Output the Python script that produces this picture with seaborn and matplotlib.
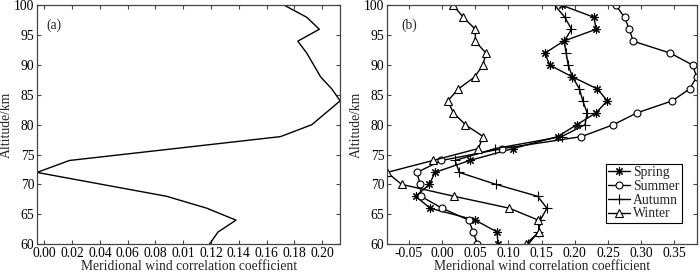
import matplotlib
matplotlib.use("Agg")
import matplotlib.pyplot as plt
import seaborn as sns
import pandas as pd

# ---------------- data ----------------
# panel (a): total meridional wind correlation coefficient
alt_a = [100, 98, 96, 94, 92, 90, 88, 86, 84, 80, 78, 74, 72, 68, 66, 64, 62, 60]
corr_a = [0.173, 0.189, 0.198, 0.1825, 0.189, 0.194, 0.199, 0.207, 0.213, 0.1926,
          0.170, 0.018, -0.0053, 0.088, 0.117, 0.138, 0.125, 0.119]

# panel (b): seasonal
alt_b = [100, 98, 96, 94, 92, 90, 88, 86, 84, 82, 80, 78, 76, 74, 72, 70, 68, 66, 64, 62, 60]
spring = [0.181, 0.229, 0.232, 0.183, 0.155, 0.162, 0.1965, 0.234, 0.249, 0.232, 0.203,
          0.174, 0.107, 0.0415, -0.011, -0.019, -0.040, -0.018, 0.050, 0.083, 0.084]
summer = [0.262, 0.275, 0.282, 0.288, 0.344, 0.3775, 0.3837, 0.373, 0.347, 0.294, 0.258,
          0.210, 0.091, -0.001, -0.038, -0.033, -0.032, 0.000, 0.040, 0.047, 0.053]
autumn = [0.170, 0.185, 0.195, 0.184, 0.187, 0.190, 0.1965, 0.207, 0.212, 0.2185, 0.2154,
          0.180, 0.080, 0.0195, 0.026, 0.081, 0.144, 0.158, 0.148, 0.145, 0.130]
winter = [0.017, 0.032, 0.050, 0.050, 0.066, 0.0615, 0.049, 0.0246, 0.0085, 0.017, 0.035,
          0.062, 0.0545, -0.0138, -0.083, -0.061, 0.018, 0.1015, 0.145, 0.146, 0.126]
season_names = ["Spring", "Summer", "Autumn", "Winter"]

xticks_a = [0.00, 0.02, 0.04, 0.06, 0.08, 0.10, 0.12, 0.14, 0.16, 0.18, 0.20]
xticklabels_a = ["0.00", "0.02", "0.04", "0.06", "0.08", "0.01", "0.12", "0.14",
                 "0.16", "0.18", "0.20"]
xticks_b = [-0.05, 0.00, 0.05, 0.10, 0.15, 0.20, 0.25, 0.30, 0.35]
xticklabels_b = ["-0.05", "0.00", "0.05", "0.10", "0.15", "0.20", "0.25", "0.30", "0.35"]
yticks = [60, 65, 70, 75, 80, 85, 90, 95, 100]
xlabel = "Meridional wind correlation coefficient"
ylabel = "Altitude/km"

# ---------------- style ----------------
sns.set_theme(style="ticks")
plt.rcParams["font.family"] = ["Liberation Serif", "DejaVu Serif"]
plt.rcParams["axes.unicode_minus"] = False
FS = 9.8

fig = plt.figure(figsize=(7.0, 2.75), dpi=100)
ax_a = fig.add_axes([0.0529, 0.1127, 0.433, 0.8677])
ax_b = fig.add_axes([0.5529, 0.1127, 0.4424, 0.8677])

def style_axes(ax):
    for s in ax.spines.values():
        s.set_color("#444444")
        s.set_linewidth(0.9)
        s.set_visible(True)
    ax.tick_params(direction="in", top=True, right=True, length=3, width=0.8,
                   colors="#444444", labelcolor="black", labelsize=FS, pad=2)
    ax.set_ylim(60, 100)
    ax.set_yticks(yticks)
    ax.set_xlabel(xlabel, fontsize=FS, labelpad=0)
    ax.set_ylabel(ylabel, fontsize=FS, labelpad=1)

# panel (a)
df_a = pd.DataFrame({"alt": alt_a, "corr": corr_a})
sns.lineplot(data=df_a, x="corr", y="alt", orient="y", estimator=None, sort=True,
             color="black", linewidth=1.0, ax=ax_a)
style_axes(ax_a)
ax_a.set_xlim(min(corr_a), max(corr_a))
ax_a.set_xticks(xticks_a)
ax_a.set_xticklabels(xticklabels_a)
ax_a.text(0.03, 0.945, "(a)", transform=ax_a.transAxes, fontsize=FS, va="top", ha="left")

# panel (b)
series = [spring, summer, autumn, winter]
markers = [(8, 2, 0), "o", "+", "^"]
msizes = [6, 5, 6.5, 5.5]
for name, vals, mk, ms in zip(season_names, series, markers, msizes):
    df = pd.DataFrame({"alt": alt_b, "corr": vals})
    hollow = mk in ("o", "^")
    sns.lineplot(data=df, x="corr", y="alt", orient="y", estimator=None, sort=True,
                 color="black", linewidth=1.0, marker=mk, markersize=ms,
                 markerfacecolor="white" if hollow else "black",
                 markeredgecolor="black", markeredgewidth=0.8, label=name, ax=ax_b)
style_axes(ax_b)
allv = spring + summer + autumn + winter
ax_b.set_xlim(min(allv), max(allv))
ax_b.set_xticks(xticks_b)
ax_b.set_xticklabels(xticklabels_b)
ax_b.text(0.045, 0.945, "(b)", transform=ax_b.transAxes, fontsize=FS, va="top", ha="left")
leg = ax_b.legend(loc="lower right", bbox_to_anchor=(0.952, 0.088), borderaxespad=0,
                  fontsize=FS, frameon=True, fancybox=False, framealpha=1,
                  edgecolor="black", handlelength=1.6, handletextpad=0.2,
                  labelspacing=0.05, borderpad=0.2)
leg.get_frame().set_linewidth(0.8)

fig.savefig("out.png", dpi=100)
